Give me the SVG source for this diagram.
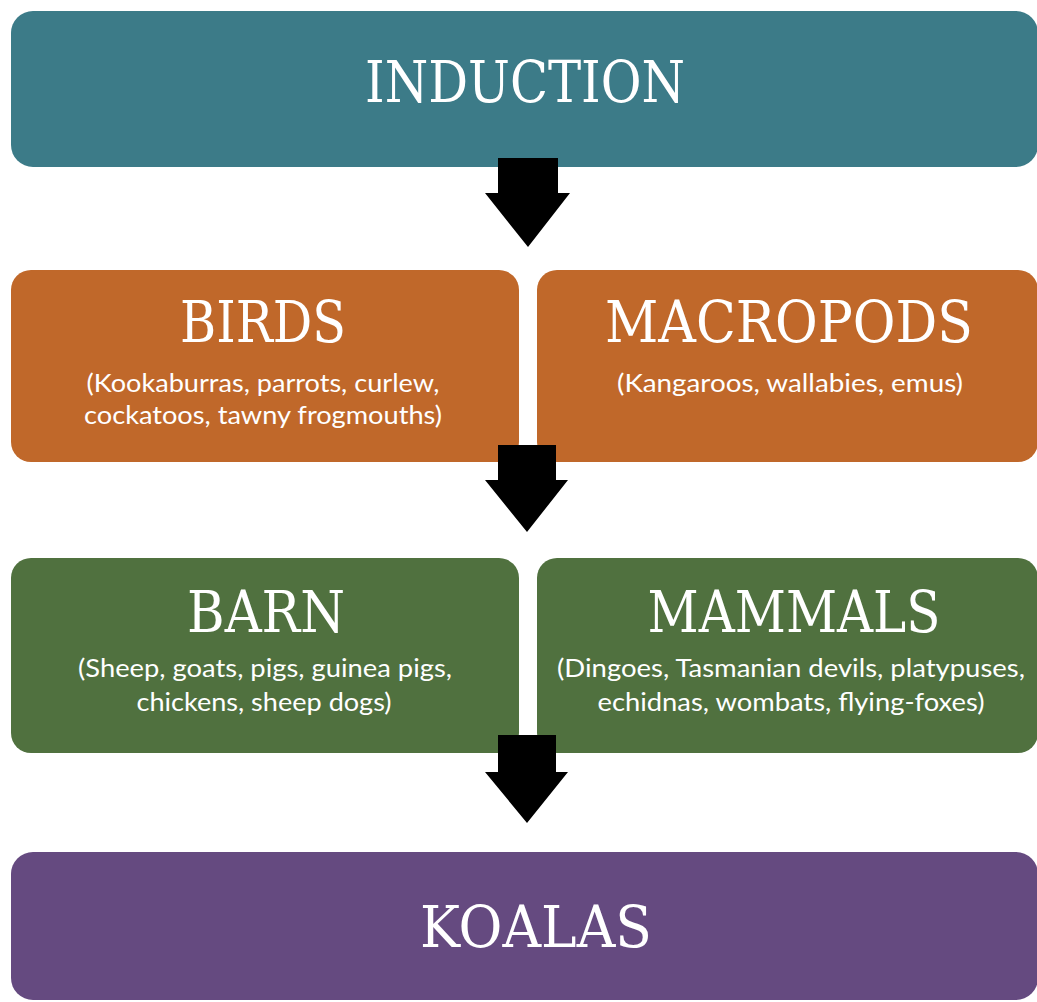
<svg xmlns="http://www.w3.org/2000/svg" width="1037" height="1002" viewBox="0 0 1037 1002">
<style>
.t{font-family:"DejaVu Serif","Liberation Serif",serif;fill:#fff;font-size:58px;text-anchor:middle}
.s{font-family:Lato,"Liberation Sans",sans-serif;fill:#fff;font-size:25px;text-anchor:middle}
.arr{fill:#000}
</style>
<rect width="1037" height="1002" fill="#fff"/>
<g id="induction"><rect x="11" y="11" width="1027" height="156" rx="22" fill="#3C7B88"/><text class="t" x="525" y="102" textLength="320" lengthAdjust="spacingAndGlyphs">INDUCTION</text></g>
<g id="birds"><rect x="11" y="270" width="508" height="192" rx="20" fill="#C0682A"/><text class="t" x="263" y="342" textLength="166" lengthAdjust="spacingAndGlyphs">BIRDS</text><text class="s" x="263" y="392" textLength="353" lengthAdjust="spacingAndGlyphs">(Kookaburras, parrots, curlew,</text><text class="s" x="263" y="424" textLength="358" lengthAdjust="spacingAndGlyphs">cockatoos, tawny frogmouths)</text></g>
<g id="macropods"><rect x="537" y="270" width="501" height="192" rx="20" fill="#C0682A"/><text class="t" x="789" y="342" textLength="368" lengthAdjust="spacingAndGlyphs">MACROPODS</text><text class="s" x="790" y="392" textLength="346" lengthAdjust="spacingAndGlyphs">(Kangaroos, wallabies, emus)</text></g>
<g id="barn"><rect x="11" y="558" width="508" height="195" rx="20" fill="#50713F"/><text class="t" x="266" y="632" textLength="158" lengthAdjust="spacingAndGlyphs">BARN</text><text class="s" x="265" y="677" textLength="374" lengthAdjust="spacingAndGlyphs">(Sheep, goats, pigs, guinea pigs,</text><text class="s" x="264" y="711" textLength="255" lengthAdjust="spacingAndGlyphs">chickens, sheep dogs)</text></g>
<g id="mammals"><rect x="537" y="558" width="501" height="195" rx="20" fill="#50713F"/><text class="t" x="794" y="632" textLength="293" lengthAdjust="spacingAndGlyphs">MAMMALS</text><text class="s" x="791" y="677" textLength="468" lengthAdjust="spacingAndGlyphs">(Dingoes, Tasmanian devils, platypuses,</text><text class="s" x="791" y="711" textLength="387" lengthAdjust="spacingAndGlyphs">echidnas, wombats, flying-foxes)</text></g>
<g id="koalas"><rect x="11" y="852" width="1027" height="148" rx="22" fill="#654A80"/><text class="t" x="536" y="947" textLength="232" lengthAdjust="spacingAndGlyphs">KOALAS</text></g>
<g id="connectors">
<polygon class="arr" points="498,158 558,158 558,193 570,193 528,247 485,193 498,193"/>
<polygon class="arr" points="498,445 556,445 556,480 568,480 527,532 485,480 498,480"/>
<polygon class="arr" points="498,735 556,735 556,772 568,772 527,823 485,772 498,772"/>
</g>
</svg>
